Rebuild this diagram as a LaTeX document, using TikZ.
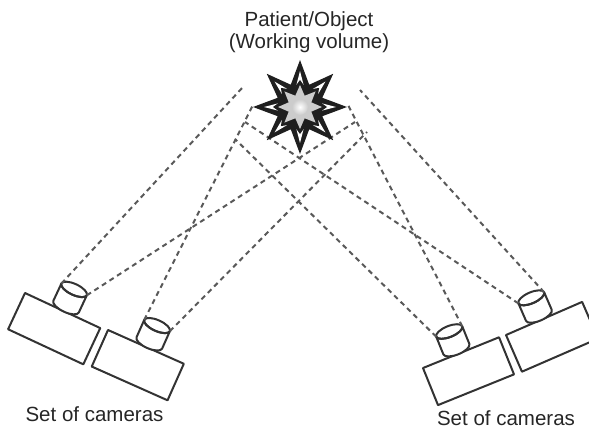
\documentclass[tikz,border=0pt]{standalone}
\usepackage{fontspec}
\setmainfont{Liberation Sans}
\usetikzlibrary{shapes.geometric}
\begin{document}
\begin{tikzpicture}[x=1pt,y=1pt,
  cambody/.style={draw=black!80, line width=2pt, line join=round},
  ray/.style={draw=black!65, line width=2pt, dash pattern=on 5pt off 4pt},
  lbl/.style={font=\fontsize{20.5}{22}\selectfont, inner sep=0pt, text=black!85},
  starpart/.style={star, star points=8, inner sep=0pt, draw=none},
  % camera: box with a lens cylinder on its top edge; #1 = lens offset, #2 = box width
  pics/camera/.style 2 args={code={
     \draw[cambody] (0,0) rectangle (#2,-40);
     \draw[cambody, fill=white] (#1,5) -- (#1,24)
        arc[start angle=180, end angle=360, x radius=14, y radius=5.5]
        -- ({#1+28},5)
        arc[start angle=0, end angle=-180, x radius=14, y radius=5.5] -- cycle;
     \draw[cambody] ({#1+14},24) ellipse[x radius=14, y radius=5.5];
     \coordinate (-ll) at (#1,24);
     \coordinate (-lr) at ({#1+28},24);
  }},
]
\useasboundingbox (0,0) rectangle (589,432);

% end points of the viewing rays around the working volume
\coordinate (e1) at (243,345);
\coordinate (e2) at (355,310);
\coordinate (e3) at (253,327);
\coordinate (e4) at (367,300);
\coordinate (e5) at (360,342);
\coordinate (e6) at (245,310);
\coordinate (e7) at (348,327);
\coordinate (e8) at (235,293);

% cameras
\pic[rotate=-25] (c1) at (25,139) {camera={29}{83}};
\pic[rotate=-24] (c2) at (108,102) {camera={29}{83}};
\pic[rotate=22] (c3) at (423,64) {camera={24}{82}};
\pic[rotate=23.5] (c4) at (506,97) {camera={24}{83}};

% viewing rays
\draw[ray] (c1-ll) -- (e1);
\draw[ray] (c1-lr) -- (e2);
\draw[ray] (c2-ll) -- (e3);
\draw[ray] (c2-lr) -- (e4);
\draw[ray] (c4-lr) -- (e5);
\draw[ray] (c4-ll) -- (e6);
\draw[ray] (c3-lr) -- (e7);
\draw[ray] (c3-ll) -- (e8);

% patient / object: black star with light notches in its points and a grey core
\node[starpart, minimum size=94pt, star point ratio=1.95, fill=black!88] (obj) at (300,325) {};
\node[starpart, minimum size=72pt, star point ratio=2.4, fill=white] at (obj) {};
\node[starpart, minimum size=54pt, star point ratio=1.45, fill=black!88] at (obj) {};
\node[starpart, minimum size=44pt, star point ratio=1.8, fill=gray!40] at (obj) {};
\shade[inner color=white, outer color=gray!40] (obj) circle (8);

% labels
\node[lbl, align=center, anchor=base] (title) at (309,383) {Patient/Object\\(Working volume)};
\node[lbl, anchor=base] (setl) at (94.5,10.3) {Set of cameras};
\node[lbl, anchor=base] (setr) at (506,7) {Set of cameras};
\end{tikzpicture}
\end{document}
